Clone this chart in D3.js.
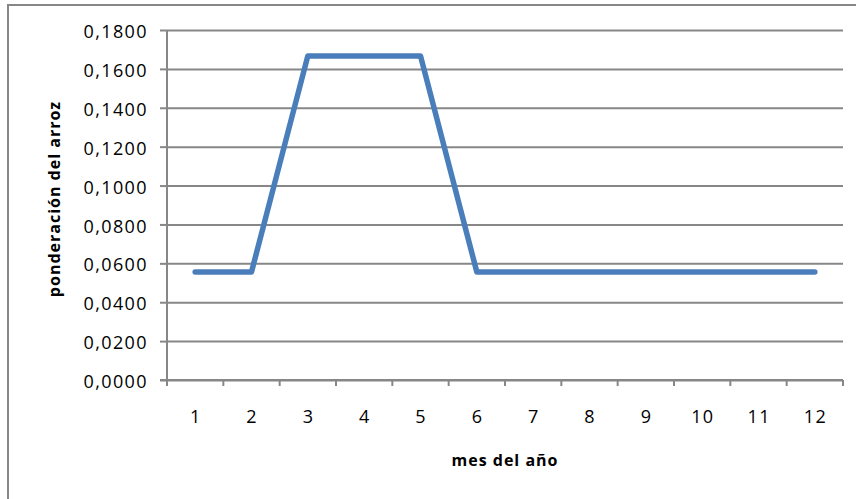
<!DOCTYPE html>
<html>
<head>
<meta charset="utf-8">
<script src="https://cdn.jsdelivr.net/npm/d3@7"></script>
<style>
  html, body { margin: 0; padding: 0; background: #fff; }
  svg { display: block; }
  text { font-family: "Open Sans", "Noto Sans", sans-serif; fill: #000; }
</style>
</head>
<body>
<svg id="chart" width="856" height="499"></svg>
<script>
// Monthly weighting of rice over the year
const months = [1, 2, 3, 4, 5, 6, 7, 8, 9, 10, 11, 12];
const weights = [1/18, 1/18, 1/6, 1/6, 1/6, 1/18, 1/18, 1/18, 1/18, 1/18, 1/18, 1/18];
const yTicks = [0, 0.02, 0.04, 0.06, 0.08, 0.10, 0.12, 0.14, 0.16, 0.18];
const xTitle = "mes del año";
const yTitle = "ponderación del arroz";

const svg = d3.select("#chart");
const plot = { left: 167, right: 843, top: 30, bottom: 380 };
const gridColor = "#878787";

// Outer chart frame
svg.append("rect")
  .attr("x", 8).attr("y", 5)
  .attr("width", 870).attr("height", 520)
  .attr("fill", "#fff")
  .attr("stroke", gridColor).attr("stroke-width", 2);

const x = d3.scaleBand().domain(months).range([plot.left, plot.right]).padding(0);
const y = d3.scaleLinear().domain([0, 0.18]).range([plot.bottom, plot.top]);

const fmt = v => d3.format(".4f")(v).replace(".", ",");

// Horizontal gridlines with left tick marks and labels
const yAxis = d3.axisLeft(y)
  .tickValues(yTicks)
  .tickSize(-(plot.right - plot.left))
  .tickSizeOuter(0)
  .tickPadding(14)
  .tickFormat(fmt);

const gy = svg.append("g")
  .attr("transform", `translate(${plot.left},0)`)
  .call(yAxis);
gy.select(".domain").remove();
gy.selectAll(".tick line").attr("stroke", gridColor).attr("stroke-width", 2);
gy.selectAll(".tick").append("line")
  .attr("x1", -7).attr("x2", 0)
  .attr("stroke", gridColor).attr("stroke-width", 2);
gy.selectAll(".tick text")
  .attr("font-size", 18)
  .attr("letter-spacing", "1.4px")
  .attr("dy", "0.42em")
  .attr("x", -19);

// Vertical axis line
svg.append("line")
  .attr("x1", plot.left).attr("x2", plot.left)
  .attr("y1", y(0.18)).attr("y2", y(0))
  .attr("stroke", gridColor).attr("stroke-width", 2);

// Category axis: ticks on band boundaries, labels at band centres
const boundaries = months.map(m => x(m)).concat([plot.right]);
const gx = svg.append("g");
gx.append("line")
  .attr("x1", plot.left - 7).attr("x2", plot.right)
  .attr("y1", y(0)).attr("y2", y(0))
  .attr("stroke", gridColor).attr("stroke-width", 2);
gx.selectAll("line.tk").data(boundaries).join("line")
  .attr("class", "tk")
  .attr("x1", d => d).attr("x2", d => d)
  .attr("y1", y(0)).attr("y2", y(0) + 6)
  .attr("stroke", gridColor).attr("stroke-width", 2);
gx.selectAll("text").data(months).join("text")
  .attr("x", d => x(d) + x.bandwidth() / 2 + 0.7)
  .attr("y", 423)
  .attr("text-anchor", "middle")
  .attr("font-size", 18)
  .attr("letter-spacing", "1.4px")
  .text(d => d);

// Data line
const line = d3.line()
  .x((d, i) => x(months[i]) + x.bandwidth() / 2)
  .y(d => y(d));
svg.append("path")
  .datum(weights)
  .attr("d", line)
  .attr("fill", "none")
  .attr("stroke", "#4a7ebb")
  .attr("stroke-width", 5.5)
  .attr("stroke-linejoin", "round")
  .attr("stroke-linecap", "round");

// Axis titles
svg.append("text")
  .attr("x", 505).attr("y", 466)
  .attr("text-anchor", "middle")
  .attr("font-size", 16)
  .attr("font-weight", "bold")
  .attr("letter-spacing", "1px")
  .text(xTitle);

svg.append("text")
  .attr("transform", "translate(60,199) rotate(-90)")
  .attr("text-anchor", "middle")
  .attr("font-size", 16)
  .attr("font-weight", "bold")
  .attr("letter-spacing", "1px")
  .text(yTitle);
</script>
</body>
</html>
